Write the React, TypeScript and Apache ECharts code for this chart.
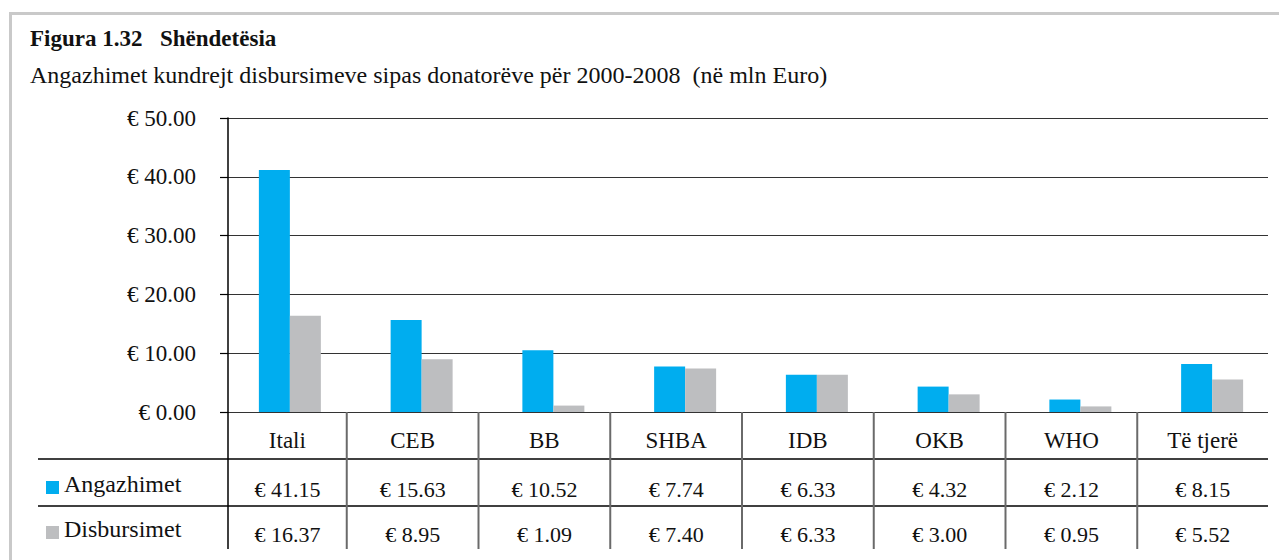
import React, { useEffect, useRef } from "react";
import * as echarts from "echarts";

const categories = ["Itali", "CEB", "BB", "SHBA", "IDB", "OKB", "WHO", "Të tjerë"];
const angazhimet = [41.15, 15.63, 10.52, 7.74, 6.33, 4.32, 2.12, 8.15];
const disbursimet = [16.37, 8.95, 1.09, 7.4, 6.33, 3.0, 0.95, 5.52];
const seriesNames = ["Angazhimet", "Disbursimet"];
const yMin = 0;
const yMax = 50;
const yInterval = 10;

const titleBold = "Figura 1.32";
const titleBold2 = "Shëndetësia";
const subtitle = "Angazhimet kundrejt disbursimeve sipas donatorëve për 2000-2008\u00a0\u00a0(në mln Euro)";

const BLUE = "#00adef";
const GRAY = "#bdbec0";
const FONT = "'Liberation Serif', 'Times New Roman', serif";

const W = 1279;
const H = 560;
const TOP = 118;
const BOTTOM = 148;
const G0_LEFT = 224;
const G0_RIGHT = 1;
const G1_LEFT = 228;
const G1_RIGHT = 11;
const SEP_SHIFT = -9;

const fmt = (v: number) => "€ " + v.toFixed(2);

export default function App() {
  const ref = useRef<HTMLDivElement>(null);
  useEffect(() => {
    document.body.style.margin = "0";
    const chart = echarts.init(ref.current!, null, { renderer: "svg" });
    const option: any = {
      animation: false,
      backgroundColor: "#ffffff",
      textStyle: { fontFamily: FONT },
      grid: [
        { left: G0_LEFT, right: G0_RIGHT, top: TOP, bottom: BOTTOM },
        { left: G1_LEFT, right: G1_RIGHT, top: TOP, bottom: BOTTOM },
      ],
      xAxis: [
        { type: "category", gridIndex: 0, data: categories, show: false },
        {
          type: "category",
          gridIndex: 1,
          data: categories,
          axisLine: { show: false },
          axisTick: { show: false },
          axisLabel: { show: false },
        },
      ],
      yAxis: [
        { type: "value", gridIndex: 0, min: yMin, max: yMax, interval: yInterval, show: false },
        {
          type: "value",
          gridIndex: 1,
          min: yMin,
          max: yMax,
          interval: yInterval,
          axisLine: { show: true, lineStyle: { color: "#000", width: 1.5 } },
          axisTick: { show: true, length: 8, lineStyle: { color: "#000", width: 1.2 } },
          axisLabel: {
            formatter: (v: number) => fmt(v),
            fontFamily: FONT,
            fontSize: 23,
            color: "#111",
            margin: 32,
            padding: [12, 0, 0, 0],
          },
          splitLine: { show: true, lineStyle: { color: "#333", width: 1.2 } },
        },
      ],
      series: [
        {
          name: seriesNames[0],
          type: "bar",
          xAxisIndex: 0,
          yAxisIndex: 0,
          data: angazhimet,
          barWidth: 31,
          barGap: "0%",
          itemStyle: { color: BLUE },
        },
        {
          name: seriesNames[1],
          type: "bar",
          xAxisIndex: 0,
          yAxisIndex: 0,
          data: disbursimet,
          barWidth: 31,
          barGap: "0%",
          itemStyle: { color: GRAY },
        },
      ],
    };
    chart.setOption(option);

    const centers = categories.map((_, i) => chart.convertToPixel({ xAxisIndex: 0 }, i) as number);
    const y0 = chart.convertToPixel({ yAxisIndex: 0 }, yMin) as number;
    const leftEdge = G1_LEFT;
    const rightEdge = W - G1_RIGHT;
    const seps: number[] = [];
    for (let i = 0; i < centers.length - 1; i++) {
      seps.push((centers[i] + centers[i + 1]) / 2 + SEP_SHIFT);
    }
    const edges = [leftEdge, ...seps, rightEdge];
    const colCenter = (i: number) => (edges[i] + edges[i + 1]) / 2;

    const rowLine1 = y0 + 47;
    const rowLine2 = y0 + 94;
    const tableBottom = y0 + 137;
    const headerY = y0 + 28;
    const row1Y = y0 + 77;
    const row2Y = y0 + 122;

    const g: any[] = [];
    g.push({
      type: "rect",
      shape: { x: 10.5, y: 13.5, width: 1400, height: 700 },
      style: { fill: "none", stroke: "#c9c9c9", lineWidth: 3 },
      silent: true,
    });
    g.push({
      type: "text",
      x: 30,
      y: 50,
      style: { text: titleBold, font: `bold 23px ${FONT}`, fill: "#111", verticalAlign: "bottom" },
    });
    g.push({
      type: "text",
      x: 160,
      y: 50,
      style: { text: titleBold2, font: `bold 23px ${FONT}`, fill: "#111", verticalAlign: "bottom" },
    });
    g.push({
      type: "text",
      x: 30,
      y: 75,
      style: { text: subtitle, font: `24px ${FONT}`, fill: "#111", verticalAlign: "middle" },
    });
    [rowLine1, rowLine2].forEach((yy) => {
      g.push({
        type: "line",
        shape: { x1: 38, y1: yy, x2: rightEdge, y2: yy },
        style: { stroke: "#000", lineWidth: 1.5 },
      });
    });
    g.push({
      type: "line",
      shape: { x1: leftEdge, y1: y0, x2: leftEdge, y2: tableBottom },
      style: { stroke: "#000", lineWidth: 1.5 },
    });
    seps.forEach((sx) => {
      g.push({
        type: "line",
        shape: { x1: sx, y1: y0, x2: sx, y2: tableBottom },
        style: { stroke: "#6a6a6a", lineWidth: 2 },
      });
    });
    categories.forEach((c, i) => {
      const cx = colCenter(i);
      g.push({
        type: "text",
        x: cx,
        y: headerY,
        style: { text: c, font: `23px ${FONT}`, fill: "#111", align: "center", verticalAlign: "middle" },
      });
      g.push({
        type: "text",
        x: cx,
        y: row1Y,
        style: { text: fmt(angazhimet[i]), font: `22px ${FONT}`, fill: "#111", align: "center", verticalAlign: "middle" },
      });
      g.push({
        type: "text",
        x: cx,
        y: row2Y,
        style: { text: fmt(disbursimet[i]), font: `22px ${FONT}`, fill: "#111", align: "center", verticalAlign: "middle" },
      });
    });
    [
      { name: seriesNames[0], color: BLUE, y: row1Y - 5 },
      { name: seriesNames[1], color: GRAY, y: row2Y - 5 },
    ].forEach((l) => {
      g.push({
        type: "rect",
        shape: { x: 46, y: l.y - 3, width: 13, height: 13 },
        style: { fill: l.color },
      });
      g.push({
        type: "text",
        x: 64,
        y: l.y,
        style: { text: l.name, font: `24px ${FONT}`, fill: "#111", verticalAlign: "middle" },
      });
    });

    chart.setOption({ graphic: { elements: g } });
    return () => chart.dispose();
  }, []);
  return <div ref={ref} style={{ width: W, height: H }} />;
}
